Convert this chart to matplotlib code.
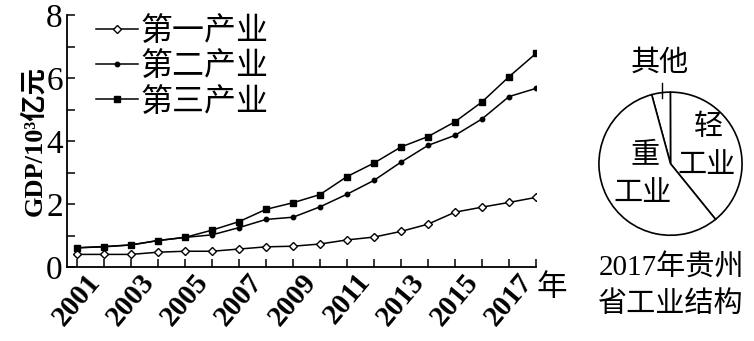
import matplotlib
matplotlib.use("Agg")
import matplotlib.pyplot as plt

years = list(range(2001, 2019))
primary = [0.40, 0.40, 0.40, 0.47, 0.50, 0.50, 0.57, 0.64, 0.66, 0.73, 0.86, 0.95, 1.13, 1.36, 1.74, 1.90, 2.05, 2.21]
secondary = [0.61, 0.64, 0.70, 0.84, 0.94, 1.02, 1.25, 1.51, 1.58, 1.91, 2.31, 2.75, 3.33, 3.86, 4.18, 4.70, 5.41, 5.67]
tertiary = [0.61, 0.65, 0.70, 0.84, 0.94, 1.17, 1.44, 1.83, 2.04, 2.30, 2.87, 3.30, 3.81, 4.14, 4.61, 5.24, 6.04, 6.78]
series_names = ['第一产业', '第二产业', '第三产业']
year_labels = [str(y) for y in range(2001, 2018, 2)]

pie_names = ['轻', '其他', '重']
pie_shares = [39.2, 4.2, 56.6]

SERIF = ['Liberation Serif', 'Noto Sans CJK SC']
CJK = ['Noto Sans CJK SC', 'DejaVu Sans']

fig = plt.figure(figsize=(7.54, 3.41), dpi=100)
ax = fig.add_axes([67 / 754, 1 - 267 / 341, (536 - 67) / 754, (267 - 15) / 341])

ax.plot(years, primary, '-', color='black', lw=1.1, marker='D', ms=4.5,
        mfc='white', mec='black', mew=1.0, label=series_names[0])
ax.plot(years, secondary, '-', color='black', lw=1.1, marker='o', ms=3.2,
        label=series_names[1])
ax.plot(years, tertiary, '-', color='black', lw=1.1, marker='s', ms=4.2,
        label=series_names[2])

ax.set_xlim(2001 - 10 / 27, 2018)
ax.set_ylim(0, 8)
ax.spines['top'].set_visible(False)
ax.spines['right'].set_visible(False)
ax.spines['left'].set_linewidth(1.3)
ax.spines['bottom'].set_linewidth(1.3)

ax.set_xticks(years)
ax.set_xticklabels([str(y) if str(y) in year_labels else '' for y in years],
                   rotation=50, ha='center', va='top', family=SERIF,
                   fontsize=21, fontweight='bold')
ax.set_yticks(range(0, 9))
ax.set_yticklabels([str(v) if v % 2 == 0 else '' for v in range(0, 9)],
                   family=SERIF, fontsize=24)
ax.tick_params(direction='in', length=6, width=1.1, pad=3)
ax.tick_params(axis='x', pad=1)

ax.set_ylabel('GDP/10³亿元', family=SERIF, fontsize=19, fontweight='bold',
              labelpad=0)
fig.text(552 / 754, 1 - 288 / 341, '年', family=CJK, fontsize=22,
         ha='center', va='center')

leg = ax.legend(loc='upper left', bbox_to_anchor=(0.035, 1.05), frameon=False,
                prop={'family': CJK, 'size': 23}, handlelength=1.3,
                handletextpad=0.1, labelspacing=0.1, borderaxespad=0)

# pie of industry structure
cx, cy, r = 670.5, 163.7, 73
pax = fig.add_axes([(cx - r) / 754, (341 - cy - r) / 341, 2 * r / 754, 2 * r / 341])
pax.pie(pie_shares, startangle=-51, counterclock=True,
        colors=['white'] * 3,
        wedgeprops={'edgecolor': 'black', 'linewidth': 1.2})
pax.set_xlim(-1.02, 1.02)
pax.set_ylim(-1.02, 1.02)
pax.set_aspect('equal')

fig.text(708 / 754, 1 - 127 / 341, pie_names[0], family=CJK, fontsize=21,
         ha='center', va='center')
fig.text(707 / 754, 1 - 165 / 341, '工业', family=CJK, fontsize=21,
         ha='center', va='center')
fig.text(645 / 754, 1 - 155 / 341, pie_names[2], family=CJK, fontsize=21,
         ha='center', va='center')
fig.text(643 / 754, 1 - 193 / 341, '工业', family=CJK, fontsize=21,
         ha='center', va='center')
fig.text(660 / 754, 1 - 63 / 341, pie_names[1], family=CJK, fontsize=21,
         ha='center', va='center')
fig.lines.append(plt.Line2D([662 / 754, 662 / 754], [1 - 83 / 341, 1 - 98 / 341],
                            transform=fig.transFigure, color='black', lw=1.0))
fig.text(671 / 754, 1 - 267 / 341, '2017年贵州', family=SERIF, fontsize=21,
         ha='center', va='center')
fig.text(671 / 754, 1 - 304 / 341, '省工业结构', family=CJK, fontsize=21,
         ha='center', va='center')

fig.savefig('out.png', dpi=100)
